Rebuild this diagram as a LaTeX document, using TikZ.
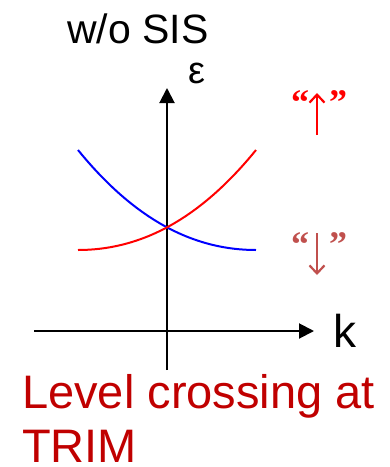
\documentclass[tikz,border=0pt]{standalone}
\usepackage{fontspec}
\setmainfont{Liberation Sans}
\newfontfamily\qfont{Liberation Serif}
\usetikzlibrary{arrows.meta}
\definecolor{lvlred}{HTML}{C00000}
\definecolor{dnred}{HTML}{C0504D}
\begin{document}
\begin{tikzpicture}[x=1pt,y=-1pt,
  axis/.style={line width=2pt,-{Triangle[width=15pt,length=15pt]}},
  lbl/.style={inner sep=0pt,anchor=base west},
  qt/.style={inner sep=0pt,anchor=base west,font=\fontsize{36}{44}\qfont\bfseries},
  marrow/.style={line width=2.2pt,-{Straight Barb[width=15pt,length=8pt]}},
  curve/.style={line width=2pt}]
\useasboundingbox (0,0) rectangle (390,467);
\coordinate (vb) at (167,370);
\coordinate (vt) at (167,88);
\coordinate (hl) at (34,331);
\coordinate (hr) at (314,331);
\draw[axis] (vb) -- (vt);
\draw[axis] (hl) -- (hr);
\coordinate (b0) at (78,150);
\coordinate (b1) at (256,250);
\coordinate (r0) at (78,250);
\coordinate (r1) at (256,150);
\draw[curve,blue] (b0) .. controls (139,225) and (199,250) .. (b1);
\draw[curve,red] (r0) .. controls (135,250) and (195,225) .. (r1);
\node[lbl,font=\fontsize{41}{49}\selectfont] (title) at (67,43) {w/o SIS};
\node[lbl,font=\fontsize{38}{46}\selectfont] (eps) at (188,83) {ε};
\node[lbl,font=\fontsize{46}{55}\selectfont] (k) at (333,347) {k};
% up arrow label
\node[qt,text=red] (uql) at (291,114) {“};
\node[qt,text=red] (uqr) at (329,114) {”};
\coordinate (ua0) at (317,135);
\coordinate (ua1) at (317,93);
\draw[marrow,red] (ua0) -- (ua1);
% down arrow label
\node[qt,text=dnred] (dql) at (291,256) {“};
\node[qt,text=dnred] (dqr) at (329,256) {”};
\coordinate (da0) at (317,233);
\coordinate (da1) at (317,275);
\draw[marrow,dnred] (da0) -- (da1);
\node[lbl,font=\fontsize{47}{57}\selectfont,text=lvlred] (lc1) at (22,408) {Level crossing at};
\node[lbl,font=\fontsize{47}{57}\selectfont,text=lvlred] (lc2) at (22,462) {TRIM};
\end{tikzpicture}
\end{document}
